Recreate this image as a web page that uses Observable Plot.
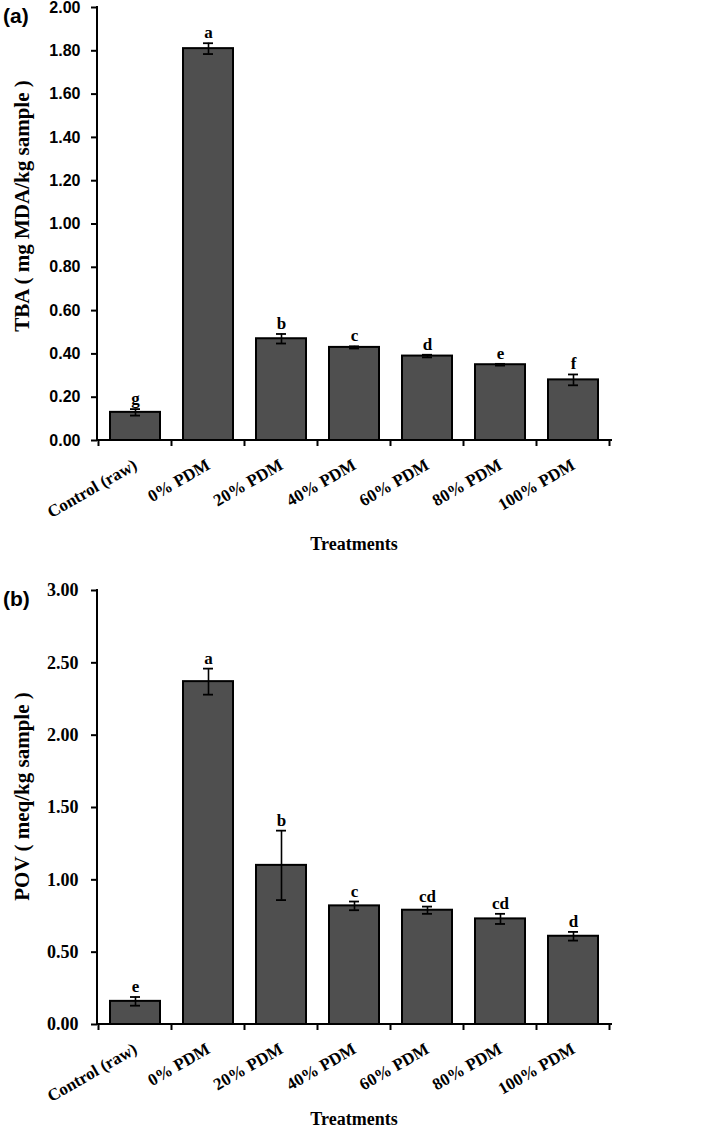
<!DOCTYPE html>
<html>
<head>
<meta charset="utf-8">
<script src="https://cdn.jsdelivr.net/npm/d3@7"></script>
<script src="https://cdn.jsdelivr.net/npm/@observablehq/plot@0.6"></script>
<style>
  html, body { margin: 0; padding: 0; background: #fff; }
  #wrap { position: relative; width: 709px; }
  #wrap svg { display: block; }
  .panel-label { position: absolute; font-family: "Liberation Sans", Arial, sans-serif; font-weight: bold; font-size: 21px; color: #000; }
  .pa g[aria-label^="y-axis"] text { font-family: "Liberation Sans", Arial, sans-serif; font-weight: bold; font-size: 16px; fill: #000; }
  .pb g[aria-label^="y-axis"] text { font-family: "Liberation Serif", "Times New Roman", serif; font-weight: bold; font-size: 18px; fill: #000; }
  g[aria-label^="x-axis"] text { font-family: "Liberation Serif", "Times New Roman", serif; font-weight: bold; font-size: 17px; fill: #000; }
  g[aria-label^="y-axis"] path, g[aria-label^="y-axis"] line { stroke: #000; stroke-width: 2px; }
</style>
</head>
<body>
<div id="wrap"></div>
<script>
const treatments = ["Control (raw)", "0% PDM", "20% PDM", "40% PDM", "60% PDM", "80% PDM", "100% PDM"];

const tbaMean = [0.13, 1.81, 0.47, 0.43, 0.39, 0.35, 0.28];
const tbaErr = [0.015, 0.025, 0.022, 0.005, 0.006, 0.004, 0.025];
const tbaLetters = ["g", "a", "b", "c", "d", "e", "f"];
const tbaTicks = [0.0, 0.2, 0.4, 0.6, 0.8, 1.0, 1.2, 1.4, 1.6, 1.8, 2.0];

const povMean = [0.16, 2.37, 1.10, 0.82, 0.79, 0.73, 0.61];
const povErr = [0.03, 0.09, 0.24, 0.03, 0.025, 0.035, 0.03];
const povLetters = ["e", "a", "b", "c", "cd", "cd", "d"];
const povTicks = [0.0, 0.5, 1.0, 1.5, 2.0, 2.5, 3.0];

const serif = '"Liberation Serif", "Times New Roman", serif';

function frameAxes() {
  return (index, scales, values, dims) => {
    const x = scales.x;
    const bw = typeof x.bandwidth === "function" ? x.bandwidth() : x.bandwidth;
    const step = typeof x.step === "function" ? x.step() : x.step;
    const {marginLeft, marginTop, marginBottom, marginRight, width, height} = dims;
    const y0 = height - marginBottom;
    const g = d3.create("svg:g").attr("stroke", "#000").attr("stroke-width", 2).attr("fill", "none");
    g.append("line").attr("x1", marginLeft).attr("x2", marginLeft).attr("y1", marginTop - 1).attr("y2", y0 + 1);
    g.append("line").attr("x1", marginLeft).attr("x2", width - marginRight + 2).attr("y1", y0).attr("y2", y0);
    const cats = x.domain();
    const bounds = cats.map(c => x(c) + bw / 2 - step / 2);
    bounds.push(x(cats[cats.length - 1]) + bw / 2 + step / 2);
    for (const b of bounds) {
      g.append("line").attr("x1", b).attr("x2", b).attr("y1", y0).attr("y2", y0 + 6);
    }
    return g.node();
  };
}

function panel({mean, err, letters, ticks, domain, title, titleDy, marginTop, marginBottom, cls, tickFmt, yPad, labelDy}) {
  const rows = treatments.map((t, i) => ({t, m: mean[i], e: err[i], l: letters[i]}));
  const p = Plot.plot({
    width: 709,
    height: 568,
    marginLeft: 97,
    marginRight: 99,
    marginTop,
    marginBottom,
    style: {fontFamily: serif, color: "#000", background: "#fff", overflow: "visible"},
    x: {domain: treatments, type: "band", paddingInner: 0.32, paddingOuter: 0.16, tickSize: 0, tickRotate: -30, tickPadding: 23, label: null},
    y: {domain, ticks, tickFormat: tickFmt, tickSize: 6, tickPadding: yPad, label: null},
    marks: [
      Plot.barY(rows, {x: "t", y: "m", fill: "#4f4f4f", stroke: "#000", strokeWidth: 2}),
      Plot.ruleX(rows, {x: "t", y1: d => d.m - d.e, y2: d => d.m + d.e, stroke: "#000", strokeWidth: 1.6}),
      Plot.tickY(rows, {x: "t", y: d => d.m - d.e, stroke: "#000", strokeWidth: 1.8, insetLeft: 20, insetRight: 20}),
      Plot.tickY(rows, {x: "t", y: d => d.m + d.e, stroke: "#000", strokeWidth: 1.8, insetLeft: 20, insetRight: 20}),
      Plot.text(rows, {x: "t", y: d => d.m + d.e, text: "l", dy: -5, lineAnchor: "bottom", fontFamily: serif, fontWeight: "bold", fontSize: 17, fill: "#000"}),
      Plot.text([title], {frameAnchor: "left", rotate: -90, dx: -75, dy: titleDy, fontFamily: serif, fontWeight: "bold", fontSize: 21, fill: "#000", textAnchor: "middle"}),
      Plot.text(["Treatments"], {frameAnchor: "bottom", dy: labelDy, fontFamily: serif, fontWeight: "bold", fontSize: 18, fill: "#000"}),
      frameAxes()
    ]
  });
  p.classList.add(cls);
  return p;
}

const wrap = document.getElementById("wrap");
const fmt = d3.format(".2f");
wrap.appendChild(panel({mean: tbaMean, err: tbaErr, letters: tbaLetters, ticks: tbaTicks, domain: [0, 2], title: "TBA ( mg MDA/kg sample )", titleDy: -18, marginTop: 7, marginBottom: 128, cls: "pa", tickFmt: fmt, yPad: 11, labelDy: 109}));
const pb = panel({mean: povMean, err: povErr, letters: povLetters, ticks: povTicks, domain: [0, 3], title: "POV ( meq/kg sample )", titleDy: -11, marginTop: 22, marginBottom: 112, cls: "pb", tickFmt: fmt, yPad: 13, labelDy: 100});
wrap.appendChild(pb);

const la = document.createElement("div");
la.className = "panel-label"; la.textContent = "(a)"; la.style.left = "3px"; la.style.top = "4px";
wrap.appendChild(la);
const lb = document.createElement("div");
lb.className = "panel-label"; lb.textContent = "(b)"; lb.style.left = "3px"; lb.style.top = "587px";
wrap.appendChild(lb);
</script>
</body>
</html>
